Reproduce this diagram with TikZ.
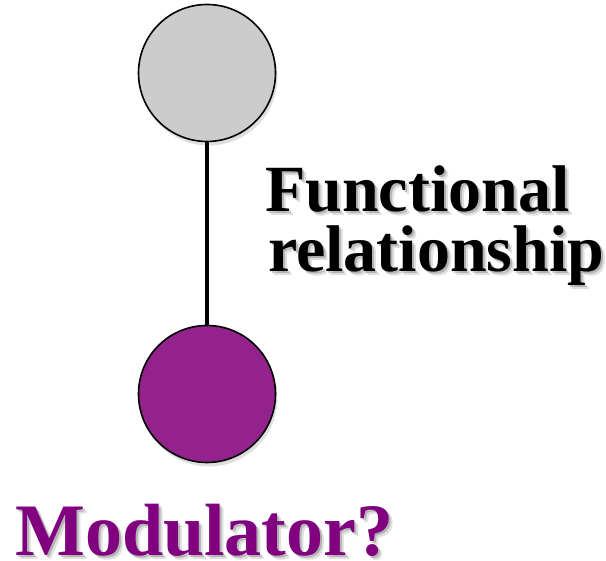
\documentclass[tikz,border=0pt]{standalone}
\usepackage{fontspec}
\setmainfont{Liberation Serif}
\usepackage{xcolor}
\usetikzlibrary{positioning,shadows}
\definecolor{modfill}{RGB}{147,34,140}
\definecolor{modtext}{RGB}{128,0,128}
\tikzset{
	circ/.style={circle,draw,line width=1.6pt,minimum size=137pt,inner sep=0pt,
		drop shadow={opacity=0.25,shadow xshift=2pt,shadow yshift=-4pt}},
	bigword/.style={anchor=base west,inner sep=0pt,font=\bfseries\fontsize{66}{66}\selectfont},
	modword/.style={anchor=base west,inner sep=0pt,font=\bfseries\fontsize{74}{74}\selectfont}
}
\begin{document}
\begin{tikzpicture}[x=1pt,y=1pt]
		\useasboundingbox (0,0) rectangle (606,561);
		\node[circ,fill=gray!40] (top) at (207,488) {};
		\node[circ,fill=modfill] (mod) at (207,167) {};
		\draw[line width=4.5pt] (top) -- (mod);
		% soft shadows under the words
		\foreach \d/\o in {2/0.2,4/0.12}{
			\node[bigword,black,opacity=\o] at (265+\d,349-\d) {Functional};
			\node[bigword,black,opacity=\o] at (268+\d,289-\d) {relationship};
			\node[modword,black,opacity=\o] at (15+\d,5-\d) {Modulator?};
		}
		\node[bigword] (func) at (265,349) {Functional};
		\node[bigword] (rel) at (268,289) {relationship};
		\node[modword,text=modtext] (modlabel) at (15,5) {Modulator?};
		\end{tikzpicture}
\end{document}
